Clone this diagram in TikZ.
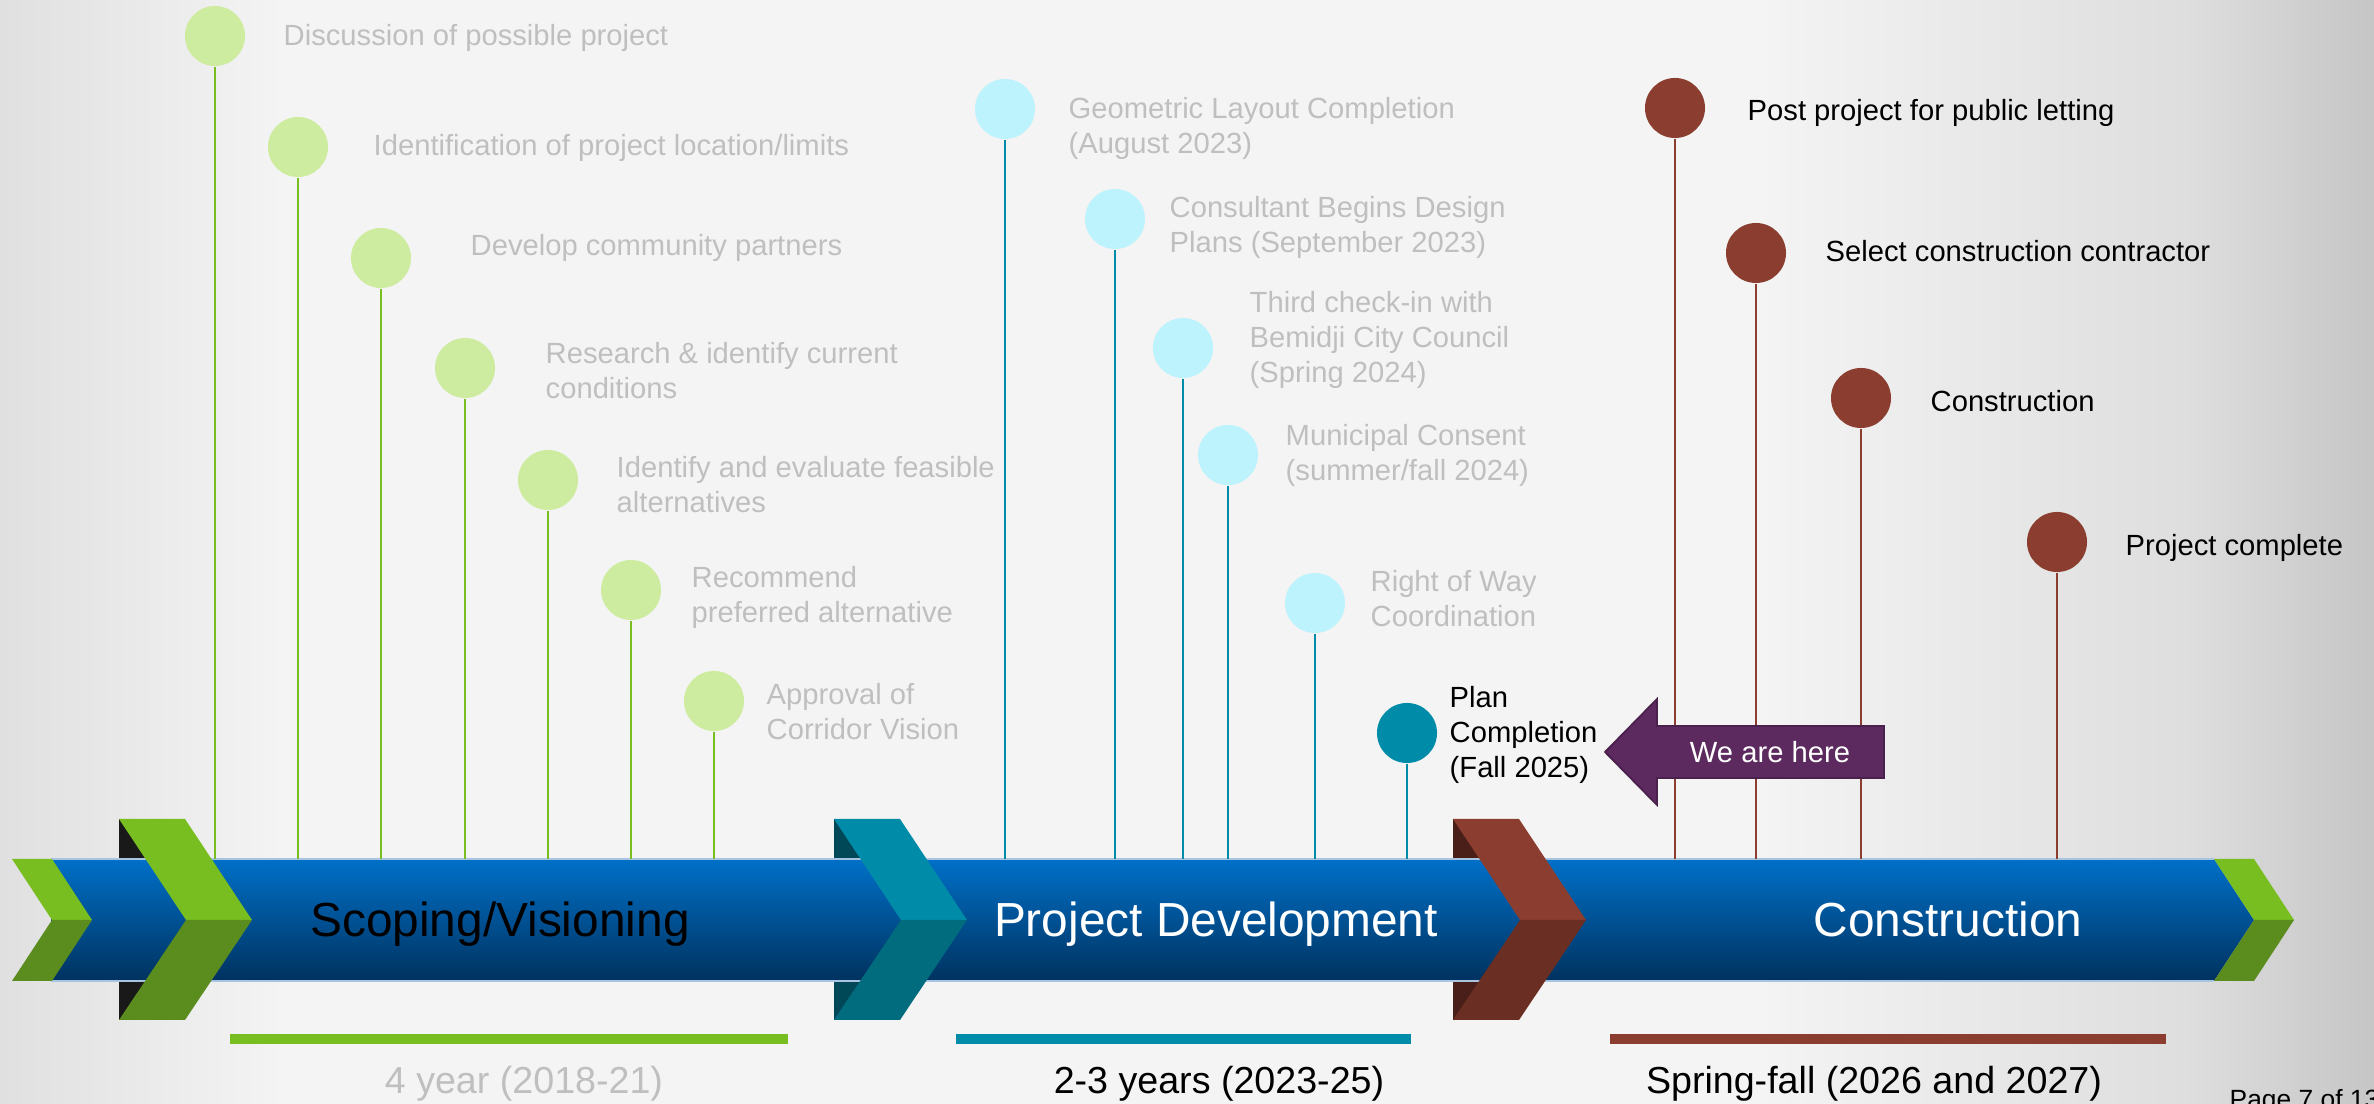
\documentclass[tikz,border=0pt]{standalone}
\usepackage{fontspec}
\setmainfont{Liberation Sans}
\usepackage{tikz}

\definecolor{bgmid}{HTML}{F4F4F4}
\definecolor{bgleft}{HTML}{E0E0E0}
\definecolor{bgedge}{HTML}{DEDEDE}
\definecolor{bgcorner}{HTML}{C6C6C6}
\definecolor{leaf}{HTML}{78BE21}
\definecolor{leafdark}{HTML}{5A8C1E}
\definecolor{leafdot}{HTML}{CDECA0}
\definecolor{sea}{HTML}{008CA8}
\definecolor{seadark}{HTML}{006C7E}
\definecolor{seaback}{HTML}{004858}
\definecolor{skydot}{HTML}{BDF3FD}
\definecolor{rust}{HTML}{8B3E2F}
\definecolor{rustdark}{HTML}{6B2E23}
\definecolor{rustback}{HTML}{4A1F19}
\definecolor{bandhi}{HTML}{0070C8}
\definecolor{bandmid}{HTML}{005EAA}
\definecolor{bandlo}{HTML}{00325F}
\definecolor{bandline}{HTML}{A8C4E0}
\definecolor{plum}{HTML}{5C2A5E}
\definecolor{plumline}{HTML}{4A204C}
\definecolor{faded}{HTML}{BFBFBF}

% the path box covers 25bp to 75bp of the shading
\pgfdeclarehorizontalshading{sidefade}{100bp}{color(0bp)=(bgleft); color(25bp)=(bgleft); color(31bp)=(bgmid); color(62bp)=(bgmid); color(71bp)=(bgedge); color(75bp)=(bgcorner); color(100bp)=(bgcorner)}

\begin{document}
\begin{tikzpicture}[x=0.01cm, y=-0.01cm,
        dot/.style={circle, minimum size=6mm, inner sep=0pt},
        note/.style={anchor=base west, align=left, inner sep=0pt, font=\fontsize{8.3}{10}\selectfont},
        phase/.style={anchor=base, inner sep=0pt, font=\fontsize{13.6}{16}\selectfont},
        span/.style={anchor=base, inner sep=0pt, font=\fontsize{10.7}{13}\selectfont},
        stem/.style={line width=0.6pt}]

        % slide background
        \shade[shading=sidefade] (0,0) rectangle (2374,1104);
        \useasboundingbox (0,0) rectangle (2374,1104);
        \coordinate (rail) at (0,859);

        % backs of the big chevrons
        \fill[black!90] (119,819) rectangle (185,1020);
        \fill[seaback] (834,819) rectangle (900,1020);
        \fill[rustback] (1453,819) rectangle (1519,1020);

        % blue band
        \shade[top color=bandhi, middle color=bandmid, bottom color=bandlo]
            (51,859) -- (2214,859) -- (2254,920) -- (2214,981) -- (51,981) -- cycle;
        \draw[bandline, line width=0.4pt] (51,859) -- (2214,859) (51,981) -- (2214,981);

        % small chevrons at both ends
        \begin{scope}[shift={(12,920)}]
            \fill[leaf] (0,-61) -- (40,-61) -- (80,0) -- (40,0) -- cycle;
            \fill[leafdark] (40,0) -- (80,0) -- (40,61) -- (0,61) -- cycle;
        \end{scope}
        \begin{scope}[shift={(2214,920)}]
            \fill[leaf] (0,-61) -- (40,-61) -- (80,0) -- (40,0) -- cycle;
            \fill[leafdark] (40,0) -- (80,0) -- (40,61) -- (0,61) -- cycle;
        \end{scope}

        % big chevrons between phases
        \begin{scope}[shift={(119,920)}]
            \fill[leaf] (0,-101) -- (66,-101) -- (133,0) -- (67,0) -- cycle;
            \fill[leafdark] (67,0) -- (133,0) -- (66,100) -- (0,100) -- cycle;
        \end{scope}
        \begin{scope}[shift={(834,920)}]
            \fill[sea] (0,-101) -- (66,-101) -- (133,0) -- (67,0) -- cycle;
            \fill[seadark] (67,0) -- (133,0) -- (66,100) -- (0,100) -- cycle;
        \end{scope}
        \begin{scope}[shift={(1453,920)}]
            \fill[rust] (0,-101) -- (66,-101) -- (133,0) -- (67,0) -- cycle;
            \fill[rustdark] (67,0) -- (133,0) -- (66,100) -- (0,100) -- cycle;
        \end{scope}

        % phase names
        \node[phase] (scoping) at (500,937) {Scoping/Visioning};
        \node[phase, text=white] (devel) at (1216,937) {Project Development};
        \node[phase, text=white] (build) at (1948,937) {Construction};

        % scoping milestones (base = last line)
        \node[dot, fill=leafdot] (g1) at (215,36) {};
        \node[dot, fill=leafdot] (g2) at (298,147) {};
        \node[dot, fill=leafdot] (g3) at (381,258) {};
        \node[dot, fill=leafdot] (g4) at (465,368) {};
        \node[dot, fill=leafdot] (g5) at (548,480) {};
        \node[dot, fill=leafdot] (g6) at (631,590) {};
        \node[dot, fill=leafdot] (g7) at (714,701) {};
        \draw[stem, leaf] (g1.south) -- (g1.south |- rail) (g2.south) -- (g2.south |- rail)
            (g3.south) -- (g3.south |- rail) (g4.south) -- (g4.south |- rail)
            (g5.south) -- (g5.south |- rail) (g6.south) -- (g6.south |- rail)
            (g7.south) -- (g7.south |- rail);
        \node[note, text=faded] (g1text) at (283,46) {Discussion of possible project};
        \node[note, text=faded] (g2text) at (373,156) {Identification of project location/limits};
        \node[note, text=faded] (g3text) at (470,256) {Develop community partners};
        \node[note, text=faded] (g4text) at (545,399) {Research \& identify current\\conditions};
        \node[note, text=faded] (g5text) at (616,513) {Identify and evaluate feasible\\alternatives};
        \node[note, text=faded] (g6text) at (691,623) {Recommend\\preferred alternative};
        \node[note, text=faded] (g7text) at (766,740) {Approval of\\Corridor Vision};

        % development milestones
        \node[dot, fill=skydot] (b1) at (1005,109) {};
        \node[dot, fill=skydot] (b2) at (1115,219) {};
        \node[dot, fill=skydot] (b3) at (1183,348) {};
        \node[dot, fill=skydot] (b4) at (1228,455) {};
        \node[dot, fill=skydot] (b5) at (1315,603) {};
        \node[dot, fill=sea] (b6) at (1407,733) {};
        \draw[stem, sea] (b1.south) -- (b1.south |- rail) (b2.south) -- (b2.south |- rail)
            (b3.south) -- (b3.south |- rail) (b4.south) -- (b4.south |- rail)
            (b5.south) -- (b5.south |- rail) (b6.south) -- (b6.south |- rail);
        \node[note, text=faded] (b1text) at (1068,154) {Geometric Layout Completion\\(August 2023)};
        \node[note, text=faded] (b2text) at (1169,253) {Consultant Begins Design\\Plans (September 2023)};
        \node[note, text=faded] (b3text) at (1249,383) {Third check-in with\\Bemidji City Council\\(Spring 2024)};
        \node[note, text=faded] (b4text) at (1285,481) {Municipal Consent\\(summer/fall 2024)};
        \node[note, text=faded] (b5text) at (1370,627) {Right of Way\\Coordination};
        \node[note] (b6text) at (1449,778) {Plan\\Completion\\(Fall 2025)};

        % construction milestones
        \node[dot, fill=rust] (r1) at (1675,108) {};
        \node[dot, fill=rust] (r2) at (1756,253) {};
        \node[dot, fill=rust] (r3) at (1861,398) {};
        \node[dot, fill=rust] (r4) at (2057,542) {};
        \draw[stem, rust] (r1.south) -- (r1.south |- rail) (r2.south) -- (r2.south |- rail)
            (r3.south) -- (r3.south |- rail) (r4.south) -- (r4.south |- rail);
        \node[note] (r1text) at (1747,121) {Post project for public letting};
        \node[note] (r2text) at (1825,262) {Select construction contractor};
        \node[note] (r3text) at (1930,412) {Construction};
        \node[note] (r4text) at (2125,556) {Project complete};

        % we are here marker
        \filldraw[fill=plum, draw=plumline, line width=0.5pt]
            (1605,752) -- (1657,699) -- (1657,726) -- (1884,726) -- (1884,778) -- (1657,778) -- (1657,805) -- cycle;
        \node[text=white, inner sep=0pt, font=\fontsize{8.3}{10}\selectfont] (here) at (1770,752) {We are here};

        % durations under the band
        \fill[leaf] (230,1034) rectangle (788,1044);
        \fill[sea] (956,1034) rectangle (1411,1044);
        \fill[rust] (1610,1034) rectangle (2166,1044);
        \node[span, text=faded] (dur1) at (524,1094) {4 year (2018-21)};
        \node[span] (dur2) at (1219,1094) {2-3 years (2023-25)};
        \node[span] (dur3) at (1874,1094) {Spring-fall (2026 and 2027)};
        \node[anchor=base west, inner sep=0pt, font=\fontsize{7.5}{9}\selectfont] (page) at (2229,1109) {Page 7 of 13};

    \end{tikzpicture}
\end{document}
